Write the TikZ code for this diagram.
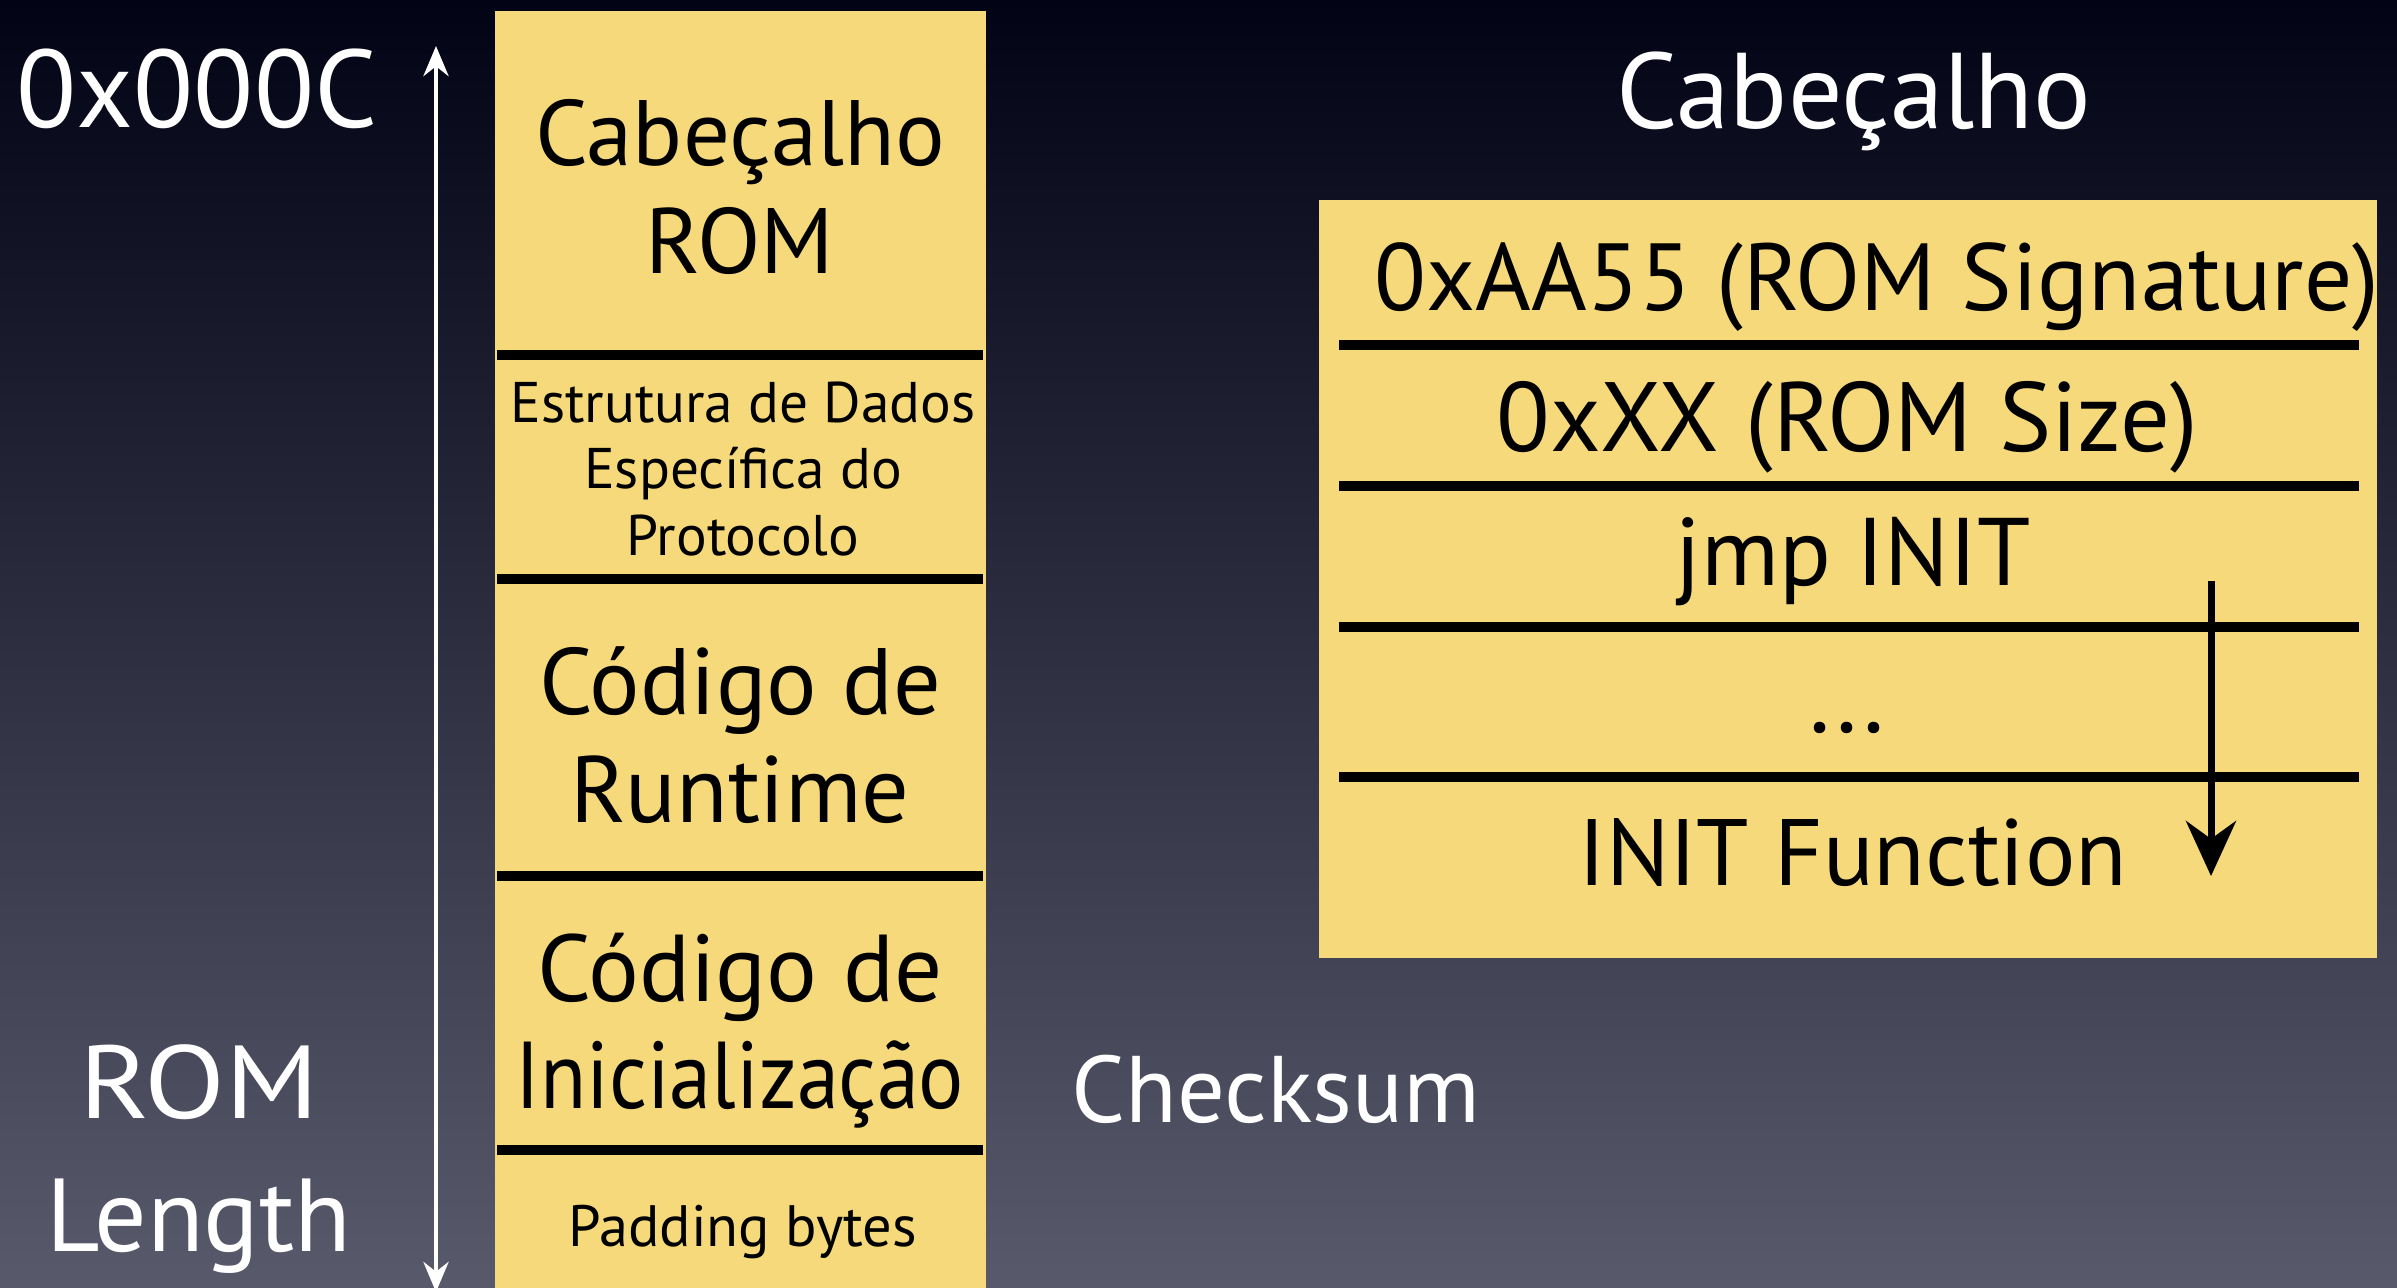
\documentclass[tikz,border=0pt]{standalone}
\usepackage{fontspec}
\setmainfont{PT Sans}
\usetikzlibrary{arrows.meta}
\definecolor{bgtop}{RGB}{2,3,20}
\definecolor{bgbot}{RGB}{88,90,108}
\definecolor{paper}{RGB}{245,217,122}
\newcommand{\fsz}[2]{\fontsize{#1}{#2}\selectfont}
\tikzset{
  big/.style={font=\fsz{28}{31}, align=center, inner sep=0pt},
  small/.style={font=\fsz{16.5}{19}, align=center, inner sep=0pt},
  wtext/.style={text=white},
  divider/.style={line width=2.8pt, black},
}
\begin{document}
\begin{tikzpicture}[x=0.01cm,y=-0.01cm]
\useasboundingbox (0,0) rectangle (2397,1287);
\clip (0,0) rectangle (2397,1287);
\shade[top color=bgtop, bottom color=bgbot] (0,0) rectangle (2397,1287);
% left column
\fill[paper] (495,11) rectangle (986,1300);
\foreach \y in {355,579,876,1150} \draw[divider] (497,\y) -- (983,\y);
\node[big, font=\fsz{26.4}{30.5}] (hdr) at (740,187) {Cabeçalho\\ROM};
\node[small, font=\fsz{16.3}{19}] (est) at (743,469) {Estrutura de Dados\\Específica do\\Protocolo};
\node[big, font=\fsz{26.8}{30.5}] (run) at (740,735) {Código de\\Runtime};
\node[big, font=\fsz{27}{30.5}] (ini) at (740,1031) {Código de\\\scalebox{0.89}[1]{Inicialização}};
\node[small, font=\fsz{16.6}{19}] (pad) at (743,1232) {Padding bytes};
% length arrow
\coordinate (lentop) at (436,46);
\coordinate (lenbot) at (436,1292);
\draw[white, line width=1.4pt, {Stealth[length=30*0.01cm, width=25*0.01cm]}-{Stealth[length=30*0.01cm, width=25*0.01cm]}] (lenbot) -- (lentop);
\node[big, wtext, font=\fsz{31.4}{34}] (addr) at (197,89) {0x000C};
\node[big, wtext, font=\fsz{29.5}{38}] (len) at (199,1159) {\scalebox{1.14}[1]{ROM}\\Length};
\node[big, wtext, font=\fsz{26.9}{31}] (chk) at (1276,1089) {Checksum};
% right header box
\node[big, wtext, font=\fsz{30.6}{34}] (title) at (1854,101) {Cabeçalho};
\fill[paper] (1319,200) rectangle (2377,958);
\foreach \y in {345,486,627,777} \draw[divider] (1339,\y) -- (2359,\y);
\node[big, font=\fsz{27.1}{31}] (sig) at (1877,287) {0xAA55 (ROM Signature)};
\node[big] (size) at (1847,427) {0xXX (ROM Size)};
\node[big, font=\fsz{27.3}{31}] (jmp) at (1853,562) {jmp INIT};
\node[big] (dots) at (1847,728) {...};
\node[big, font=\fsz{26.8}{31}] (initf) at (1853,853) {INIT Function};
\coordinate (jfrom) at (2211,581);
\coordinate (jto) at (2211,876);
\draw[black, line width=2pt, -{Stealth[length=55*0.01cm, width=50*0.01cm]}] (jfrom) -- (jto);
\end{tikzpicture}
\end{document}
